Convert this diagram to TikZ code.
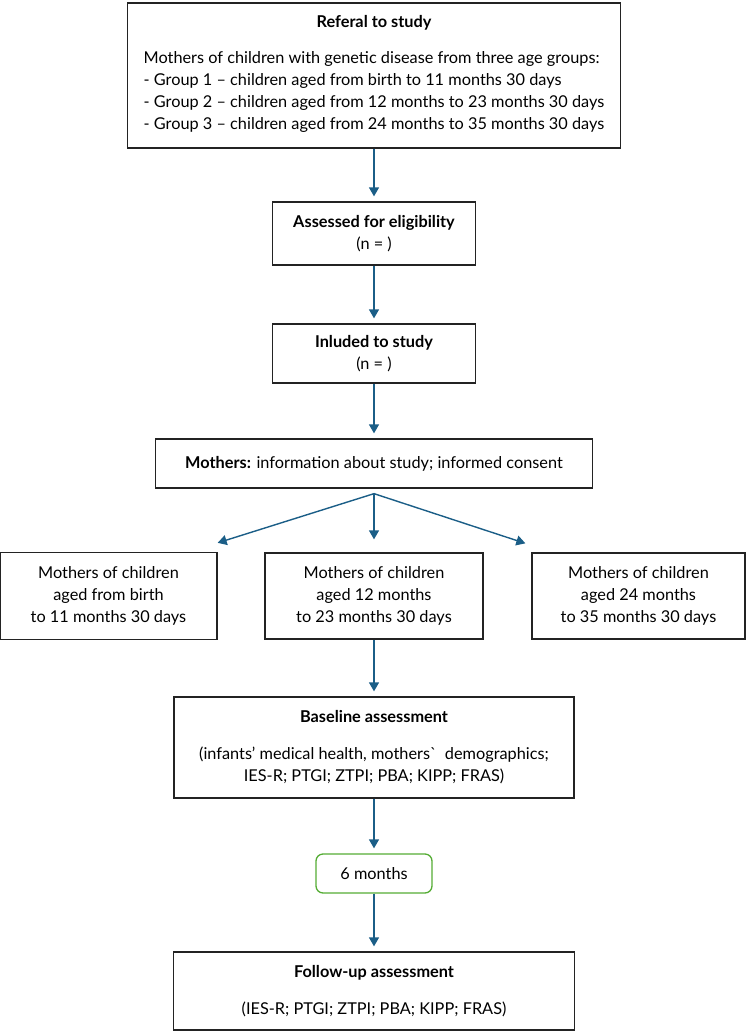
\documentclass[tikz,border=0pt]{standalone}
\usepackage{fontspec}
\setmainfont{Lato}
\usetikzlibrary{arrows.meta}
\definecolor{flowblue}{RGB}{27,94,135}
\definecolor{boxgreen}{RGB}{84,172,52}
\definecolor{boxline}{RGB}{35,35,35}

\begin{document}
\begin{tikzpicture}[
    x=1pt, y=1pt,
    >={Triangle[width=10pt,length=9pt]},
    font=\fontsize{16.3}{22}\selectfont,
    block/.style={
        draw=boxline,
        rectangle,
        line width=1.3pt,
        align=center,
        inner sep=0pt
    },
    greenbox/.style={
        block,
        draw=boxgreen,
        rounded corners=7pt
    },
    flow/.style={->, flowblue, line width=1.4pt, shorten >=5pt}
]
\useasboundingbox (0,0) rectangle (751,-1033);

% Nodes
\node [block, minimum width=493pt, minimum height=145pt] (referal) at (374,-75.5)
    {\textbf{Referal to study}\\[17pt]
     \begin{tabular}{@{}l@{}}
     Mothers of children with genetic disease from three age groups:\\
     - Group 1 -- children aged from birth to 11 months 30 days\\
     - Group 2 -- children aged from 12 months to 23 months 30 days\\
     - Group 3 -- children aged from 24 months to 35 months 30 days
     \end{tabular}};
\node [block, node distance=158pt, below of=referal, minimum width=203pt, minimum height=63pt] (assessed)
    {\textbf{Assessed for eligibility}\\(n = )};
\node [block, node distance=120pt, below of=assessed, minimum width=203pt, minimum height=59pt] (inluded)
    {\textbf{Inluded to study}\\(n = )};
\node [block, node distance=110pt, below of=inluded, minimum width=437pt, minimum height=49pt] (mothers)
    {\textbf{Mothers:} information about study; informed consent};
\coordinate (split) at ([yshift=-5pt]mothers.south);

\node [block, node distance=132.5pt, below of=mothers, minimum width=218pt, minimum height=86pt] (group2)
    {Mothers of children\\aged 12 months\\to 23 months 30 days};
\node [block, node distance=265.5pt, left of=group2, minimum width=217pt, minimum height=87pt] (group1)
    {Mothers of children\\aged from birth\\to 11 months 30 days};
\node [block, node distance=264.5pt, right of=group2, minimum width=213pt, minimum height=86pt] (group3)
    {Mothers of children\\aged 24 months\\to 35 months 30 days};

\node [block, node distance=151.5pt, below of=group2, minimum width=400pt, minimum height=101pt] (baseline)
    {\textbf{Baseline assessment}\\[15pt]
     (infants’ medical health, mothers\textasciigrave\ \ demographics;\\
     IES-R; PTGI; ZTPI; PBA; KIPP; FRAS)};
\node [greenbox, node distance=126pt, below of=baseline, minimum width=116pt, minimum height=39pt] (sixmonths)
    {6 months};
\node [block, node distance=117.5pt, below of=sixmonths, minimum width=401pt, minimum height=78pt] (followup)
    {\textbf{Follow-up assessment}\\[15pt]
     (IES-R; PTGI; ZTPI; PBA; KIPP; FRAS)};

% Arrows
\draw [flow] (referal) -- (assessed);
\draw [flow] (assessed) -- (inluded);
\draw [flow] (inluded) -- (mothers);
\draw [flow, shorten >=13pt] (split) -- (group2);
\draw [flow, shorten >=0pt] (split) -- ([yshift=9pt]group1.north east);
\draw [flow, shorten >=0pt] (split) -- ([xshift=-6pt,yshift=9pt]group3.north west);
\draw [flow] (group2) -- (baseline);
\draw [flow] (baseline) -- (sixmonths);
\draw [flow] (sixmonths) -- (followup);

\end{tikzpicture}
\end{document}
